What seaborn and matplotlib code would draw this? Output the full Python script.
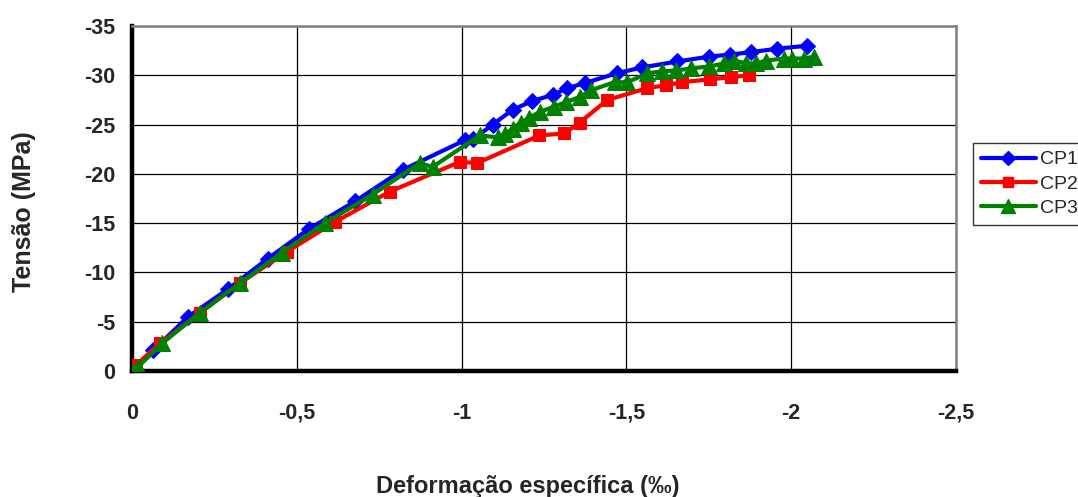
import matplotlib
matplotlib.use("Agg")
import matplotlib.pyplot as plt
import seaborn as sns
import pandas as pd
from matplotlib.ticker import FixedLocator, FuncFormatter
from matplotlib.lines import Line2D

# ---- data (strain in per mille, stress in MPa) ----
cp1_x = [0, -0.064, -0.17, -0.291, -0.412, -0.536, -0.676, -0.821, -1.009, -1.035,
         -1.094, -1.155, -1.215, -1.276, -1.321, -1.373, -1.47, -1.548, -1.655,
         -1.752, -1.815, -1.879, -1.958, -2.048]
cp1_y = [0, -2.1, -5.5, -8.3, -11.4, -14.4, -17.2, -20.4, -23.4, -23.5,
         -25.0, -26.5, -27.4, -28.0, -28.7, -29.2, -30.2, -30.8, -31.4,
         -31.9, -32.1, -32.35, -32.7, -33.0]

cp2_x = [0, -0.012, -0.085, -0.206, -0.327, -0.47, -0.615, -0.782, -0.994, -1.048,
         -1.236, -1.312, -1.358, -1.442, -1.564, -1.621, -1.67, -1.755, -1.818, -1.873]
cp2_y = [0, -0.6, -2.8, -5.9, -8.9, -12.1, -15.1, -18.2, -21.2, -21.1,
         -23.9, -24.1, -25.2, -27.5, -28.7, -29.0, -29.3, -29.6, -29.8, -30.0]

cp3_x = [0, -0.018, -0.091, -0.206, -0.327, -0.455, -0.585, -0.73, -0.873, -0.912,
         -1.055, -1.109, -1.133, -1.155, -1.179, -1.206, -1.239, -1.279, -1.318,
         -1.358, -1.394, -1.464, -1.503, -1.564, -1.609, -1.652, -1.697, -1.752,
         -1.797, -1.827, -1.864, -1.894, -1.924, -1.979, -2.003, -2.039, -2.07]
cp3_y = [0, -0.4, -2.8, -5.9, -8.9, -12.0, -15.0, -17.9, -21.1, -20.7,
         -23.9, -23.7, -24.0, -24.6, -25.2, -25.7, -26.3, -26.8, -27.3,
         -27.8, -28.5, -29.3, -29.3, -30.2, -30.4, -30.5, -30.7, -30.9,
         -31.2, -31.5, -31.2, -31.2, -31.5, -31.7, -31.7, -31.7, -31.9]

series_names = ["CP1", "CP2", "CP3"]
series_colors = ["#0000FF", "#FF0000", "#008000"]
series_markers = ["D", "s", "^"]
series_ms = [8.5, 9.0, 11.5]

x_ticks = [0, -0.5, -1, -1.5, -2, -2.5]
y_ticks = [0, -5, -10, -15, -20, -25, -30, -35]
x_label = "Deformação específica (‰)"
y_label = "Tensão (MPa)"

# ---- figure ----
sns.set_style("white")
plt.rcParams["font.family"] = ["Liberation Sans", "DejaVu Sans"]

fig = plt.figure(figsize=(10.78, 4.97), dpi=100)
ax = fig.add_axes([132 / 1078, 1 - 371 / 497, (956 - 132) / 1078, (371 - 26) / 497])

data = [(cp1_x, cp1_y), (cp2_x, cp2_y), (cp3_x, cp3_y)]
handles = []
for (xs, ys), name, col, mk, ms in zip(data, series_names, series_colors, series_markers, series_ms):
    df = pd.DataFrame({"x": xs, "y": ys})
    sns.lineplot(data=df, x="x", y="y", ax=ax, sort=False, estimator=None,
                 color=col, lw=3, marker=mk, markersize=ms,
                 markeredgecolor=col, markerfacecolor=col, zorder=3)
    handles.append(Line2D([0], [0], color=col, lw=3, marker=mk, markersize=ms * 0.85,
                          markeredgecolor=col, markerfacecolor=col))

ax.set_xlim(0, -2.5)
ax.set_ylim(0, -35)
ax.xaxis.set_major_locator(FixedLocator(x_ticks))
ax.yaxis.set_major_locator(FixedLocator(y_ticks))

def fmt(v, pos):
    s = ("%g" % v).replace(".", ",")
    return "0" if s in ("-0", "0") else s

ax.xaxis.set_major_formatter(FuncFormatter(fmt))
ax.yaxis.set_major_formatter(FuncFormatter(fmt))
ax.set_xlabel("")
ax.set_ylabel("")

ax.grid(True, color="black", lw=0.9)
ax.set_axisbelow(True)

for side in ["left", "bottom"]:
    ax.spines[side].set_color("black")
    ax.spines[side].set_linewidth(3.2)
for side in ["top", "right"]:
    ax.spines[side].set_color("#808080")
    ax.spines[side].set_linewidth(1.8)
    ax.spines[side].set_visible(True)

ax.tick_params(axis="both", direction="in", length=5, width=3, color="black",
               labelsize=15.5)
ax.tick_params(axis="x", pad=23)
ax.tick_params(axis="y", pad=12)
for lab in ax.get_xticklabels() + ax.get_yticklabels():
    lab.set_fontweight("bold")

fig.text(528 / 1078, 1 - 487 / 497, x_label, ha="center", va="center",
         fontsize=17, fontweight="bold")
fig.text(24 / 1078, 1 - 212 / 497, y_label, ha="center", va="center",
         rotation=90, fontsize=18, fontweight="bold")

leg = fig.legend(handles, series_names, loc="upper left",
                 bbox_to_anchor=(973 / 1078, 1 - 143 / 497),
                 fontsize=14, frameon=True, fancybox=False, handlelength=2.85,
                 handletextpad=0.2, labelspacing=0.34, borderpad=0.4,
                 borderaxespad=0, numpoints=1)
leg.get_frame().set_edgecolor("black")
leg.get_frame().set_linewidth(1.0)

fig.savefig("out.png", dpi=100)
